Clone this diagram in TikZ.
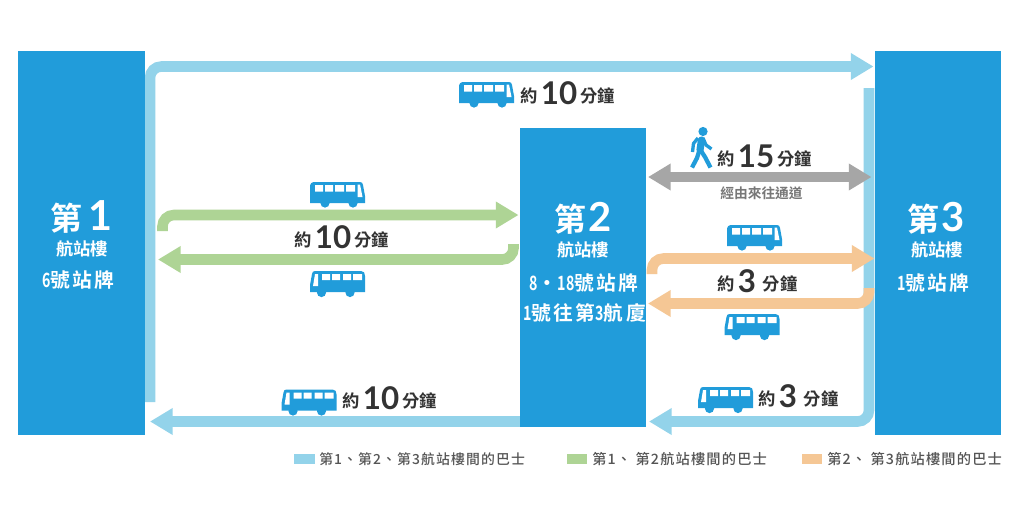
\documentclass[tikz,border=0pt]{standalone}
\usepackage{fontspec}
\usetikzlibrary{arrows.meta}
\setmainfont{Noto Sans CJK TC}
\newfontfamily\cjkb{Noto Sans CJK TC Bold}
\newfontfamily\digb{Lato Bold}
\newfontfamily\cjksp[LetterSpace=12]{Noto Sans CJK TC Bold}
\newfontfamily\cjknarrow[FakeStretch=0.72]{Noto Sans CJK TC Bold}
\newfontfamily\legendf[LetterSpace=8]{Noto Sans CJK TC Medium}
\definecolor{boxblue}{HTML}{219CDA}
\definecolor{lineblue}{HTML}{93D3EA}
\definecolor{linegreen}{HTML}{AED495}
\definecolor{lineorange}{HTML}{F5C795}
\definecolor{linegray}{HTML}{A6A6A6}
\definecolor{darktxt}{HTML}{333333}
\definecolor{midtxt}{HTML}{777777}
\definecolor{legtxt}{HTML}{555555}
\newcommand{\pxf}[1]{\fontsize{#1}{#1}\selectfont}
\newcommand{\yue}[3]{\raisebox{1.1pt}{\cjkb\pxf{13}約}\hspace{#3}{\digb\pxf{23.5}#1}\hspace{#2}\raisebox{1.1pt}{\cjkb\pxf{13}分鐘}}
\newcommand{\dn}[1]{{\cjknarrow #1}}
\tikzset{
  terminal/.style={fill=boxblue,draw=none,inner sep=0pt,anchor=north west},
  conn/.style={line width=7.9pt,rounded corners=8.5pt,-{Triangle[length=17pt,width=19pt]}},
  tname/.style={text=white,inner sep=0pt,anchor=center},
  tsub/.style={text=white,inner sep=0pt,anchor=center,font=\cjkb\pxf{13}},
  tstop/.style={text=white,inner sep=0pt,anchor=center,font=\cjksp\pxf{14.8}},
  timelbl/.style={text=darktxt,inner sep=0pt,anchor=base west},
  swatch/.style={draw=none,inner sep=0pt,anchor=north west,minimum width=15.5pt,minimum height=7.5pt},
  legendtxt/.style={text=legtxt,inner sep=0pt,anchor=west,font=\legendf\pxf{10.4}},
  legendwide/.style={text=legtxt,inner sep=0pt,anchor=west,font=\legendf\pxf{10.7}},
  busright/.pic={
    \fill[boxblue] (0,21) -- (0,5) .. controls (0,1.5) and (1.5,0) .. (5,0) -- (50,0) .. controls (52,0) and (52.5,1) .. (53,3) -- (55,14) -- (55,21) -- cycle;
    \fill[boxblue] (15,21) circle (4.6) (43,21) circle (4.6);
    \fill[white] (5,3) rectangle (13,9.5) (15,3) rectangle (23,9.5) (25,3) rectangle (34,9.5) (36,3) rectangle (45,9.5);
    \fill[white] (47.5,2.5) -- (50,2.5) -- (52.5,15) -- (47.5,15) -- cycle;
  },
  busleft/.pic={
    \fill[boxblue] (0,21) -- (0,14) -- (2,3) .. controls (2.5,1) and (3,0) .. (5,0) -- (51,0) .. controls (54,0) and (55,2) .. (55,5) -- (55,21) -- cycle;
    \fill[boxblue] (11.5,21.5) circle (4.6) (40,21.5) circle (4.6);
    \fill[white] (5,3) -- (8,3) -- (8,15) -- (3,15) -- cycle;
    \fill[white] (12,3) rectangle (20,9) (22,3) rectangle (30,9) (33,3) rectangle (41,9) (43,3) rectangle (52,9);
  },
  walker/.pic={
    \fill[boxblue] (13,4.5) circle (4.6);
    \draw[boxblue,line width=5.4pt,line cap=round] (11.5,13) -- (10,23);
    \draw[boxblue,line width=3.2pt,line join=round] (9.5,23) -- (7,31) -- (2,40.5);
    \draw[boxblue,line width=3.2pt,line join=round] (10.5,23) -- (15,30) -- (20.5,40.5);
    \draw[boxblue,line width=2.5pt,line join=round] (13,11) -- (16,18) -- (21.5,22);
    \draw[boxblue,line width=2.5pt,line join=round] (8,11) -- (3.5,16.5) -- (2.5,25);
  }
}
\begin{document}
\begin{tikzpicture}[x=0.75pt,y=-0.75pt]
\useasboundingbox[fill=white] (0,0) rectangle (1024,519);
% connector ends
\coordinate (topS) at (150,402);
\coordinate (topC) at (150,66.5);
\coordinate (topE) at (873.5,66.5);
\coordinate (rightS) at (869,88);
\coordinate (rightC) at (869,421.5);
\coordinate (rightE) at (649,421.5);
\coordinate (botE) at (150,421.5);
\coordinate (botS) at (520,421.5);
\coordinate (gaS) at (162.5,231);
\coordinate (gaC) at (162.5,215);
\coordinate (gaE) at (518.5,215);
\coordinate (gbS) at (513.5,244);
\coordinate (gbC) at (513.5,259.5);
\coordinate (gbE) at (158,259.5);
\coordinate (oaS) at (652,274);
\coordinate (oaC) at (652,258.5);
\coordinate (oaE) at (874.5,258.5);
\coordinate (obS) at (869,288);
\coordinate (obC) at (869,303.5);
\coordinate (obE) at (648,303.5);
\coordinate (wa) at (648,177);
\coordinate (wb) at (871.5,177);
% connectors
\draw[conn,lineblue] (topS) -- (topC) -- (topE);
\draw[conn,lineblue] (rightS) -- (rightC) -- (rightE);
\draw[conn,lineblue,rounded corners=0pt] (botS) -- (botE);
\draw[conn,linegreen] (gaS) -- (gaC) -- (gaE);
\draw[conn,linegreen] (gbS) -- (gbC) -- (gbE);
\draw[conn,lineorange] (oaS) -- (oaC) -- (oaE);
\draw[conn,lineorange] (obS) -- (obC) -- (obE);
\draw[line width=7.7pt,linegray,{Triangle[length=17pt,width=19pt]}-{Triangle[length=17pt,width=19pt]}] (wa) -- (wb);
% terminals
\node[terminal,minimum width=95.25pt,minimum height=288pt] (t1) at (18,51) {};
\node[terminal,minimum width=95pt,minimum height=224.25pt] (t2) at (519.5,128) {};
\node[terminal,minimum width=94.5pt,minimum height=288pt] (t3) at (875,51) {};
\node[tname] (t1n) at (81.5,217) {{\cjkb\pxf{24}第}\hspace{4pt}{\digb\pxf{31}1}};
\node[tsub] (t1s) at (82,249) {航站樓};
\node[tstop] (t1p) at (78.5,280) {\dn{6}號站牌};
\node[tname] (t2n) at (583,218) {{\cjkb\pxf{24}第}\hspace{2pt}{\digb\pxf{30}2}};
\node[tsub] (t2s) at (583,250) {航站樓};
\node[tstop] (t2p) at (584,283) {\dn{8}・\dn{18}號站牌};
\node[tstop] (t2q) at (584.5,312.5) {\dn{1}號往第\dn{3}航廈};
\node[tname] (t3n) at (936,218) {{\cjkb\pxf{24}第}\hspace{2pt}{\digb\pxf{30}3}};
\node[tsub] (t3s) at (937,250) {航站樓};
\node[tstop] (t3p) at (933.5,283) {\dn{1}號站牌};
% time labels
\node[timelbl] (l1) at (520,104) {\yue{10}{2.5pt}{2.5pt}};
\node[timelbl] (l2) at (294,248) {\yue{10}{2.5pt}{2.5pt}};
\node[timelbl] (l3) at (717,167) {\yue{15}{2.5pt}{2.5pt}};
\node[timelbl] (l4) at (717,292) {\yue{3}{5pt}{2.5pt}};
\node[timelbl] (l5) at (342,409) {\yue{10}{2.5pt}{2.5pt}};
\node[timelbl] (l6) at (758,407) {\yue{3}{5pt}{2.5pt}};
\node[text=midtxt,inner sep=0pt,font=\cjkb\pxf{10.3}] (l7) at (761.5,193.5) {經由來往通道};
% buses
\pic at (459,82) {busright};
\pic at (310,182) {busright};
\pic at (727,225) {busright};
\pic at (310,271) {busleft};
\pic at (724.5,314) {busleft};
\pic at (281.5,389.5) {busleft};
\pic at (698,387) {busleft};
\pic at (690,127) {walker};
% legend
\node[swatch,fill=lineblue] (s1) at (294,454) {};
\node[legendtxt] (k1) at (319,459) {第1、第2、第3航站樓間的巴士};
\node[swatch,fill=linegreen] (s2) at (566.5,454) {};
\node[legendwide] (k2) at (592,459) {第1、 第2航站樓間的巴士};
\node[swatch,fill=lineorange] (s3) at (801.5,454) {};
\node[legendwide] (k3) at (827,459) {第2、 第3航站樓間的巴士};
\end{tikzpicture}
\end{document}
